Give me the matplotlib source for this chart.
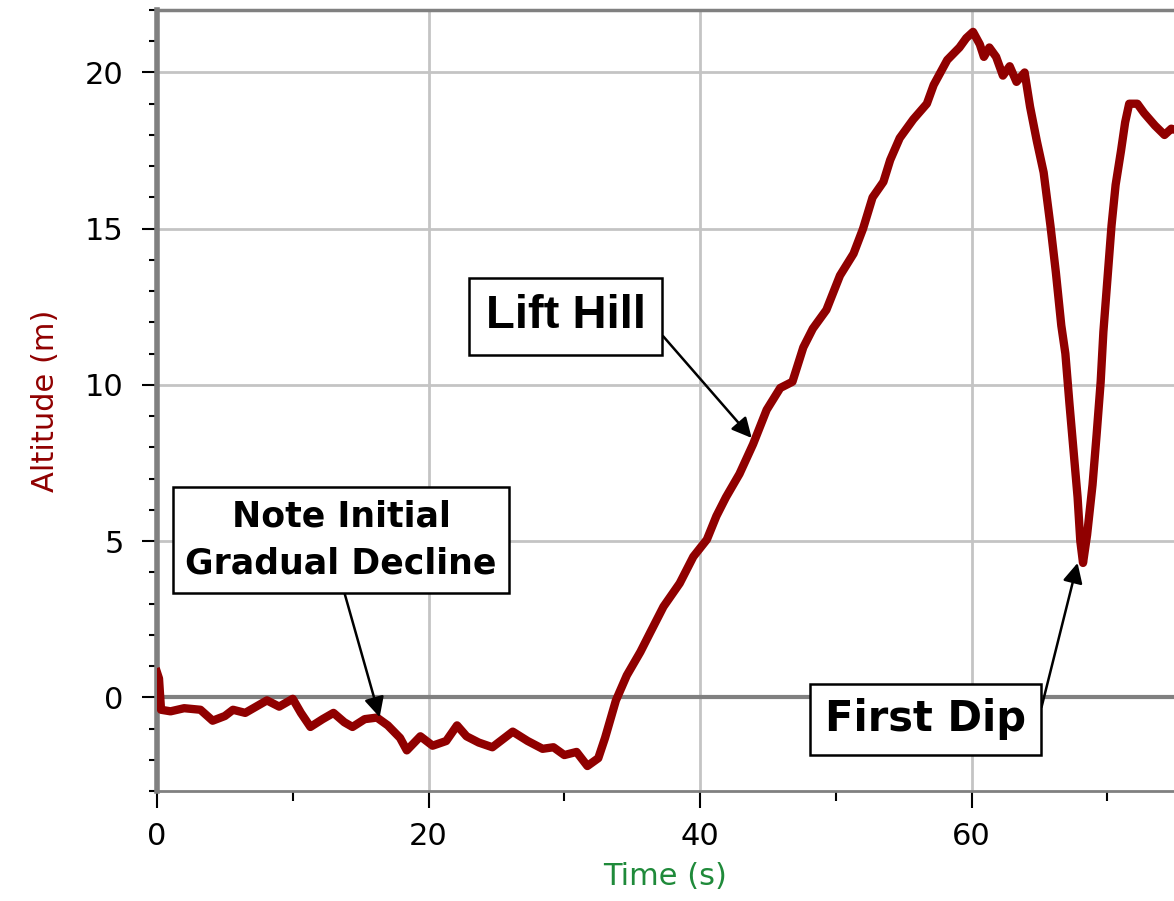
import matplotlib.pyplot as plt
from matplotlib.ticker import MultipleLocator

# tiempo (s) y altitud (m)
tiempo = [0.0, 0.15, 0.3, 1.0, 2.0, 3.2, 4.1, 5.0, 5.6, 6.5, 7.3, 8.1, 9.0, 9.6, 10.0,
          10.6, 11.3, 12.2, 13.0, 13.8, 14.4, 15.3, 16.2, 17.0, 17.9, 18.4, 19.4, 20.3,
          21.3, 22.1, 22.8, 23.7, 24.7, 25.3, 26.2, 27.3, 28.4, 29.2, 30.0, 30.9, 31.7,
          32.5, 33.0, 33.8, 34.6, 35.6, 36.3, 37.3, 38.5, 39.5, 40.5, 41.2, 41.9, 42.9,
          43.9, 44.9, 45.9, 46.8, 47.6, 48.3, 49.3, 50.3, 51.3, 52.0, 52.7, 53.5, 54.0,
          54.7, 55.7, 56.7, 57.2, 58.2, 59.1, 59.6, 60.1, 60.6, 60.9, 61.3, 61.8, 62.3,
          62.8, 63.3, 63.9, 64.3, 64.8, 65.3, 65.8, 66.2, 66.6, 66.9, 67.2, 67.5, 67.8,
          68.0, 68.2, 68.5, 68.9, 69.2, 69.5, 69.7, 70.0, 70.3, 70.6, 71.0, 71.3, 71.6,
          72.2, 72.7, 73.5, 74.2, 74.7, 75.5]
altitud = [0.8, 0.6, -0.4, -0.45, -0.35, -0.4, -0.75, -0.6, -0.4, -0.5, -0.3, -0.1, -0.3,
           -0.15, -0.05, -0.5, -0.95, -0.7, -0.5, -0.8, -0.95, -0.7, -0.65, -0.9, -1.3,
           -1.7, -1.25, -1.55, -1.4, -0.9, -1.25, -1.45, -1.6, -1.4, -1.1, -1.4, -1.65,
           -1.6, -1.85, -1.75, -2.2, -1.95, -1.3, -0.1, 0.7, 1.45, 2.05, 2.9, 3.65, 4.5,
           5.05, 5.8, 6.4, 7.15, 8.1, 9.2, 9.9, 10.1, 11.2, 11.8, 12.4, 13.5, 14.2, 15.0,
           16.0, 16.5, 17.2, 17.9, 18.5, 19.0, 19.6, 20.4, 20.8, 21.1, 21.3, 20.9, 20.5,
           20.8, 20.5, 19.9, 20.2, 19.7, 20.0, 18.9, 17.8, 16.8, 15.1, 13.6, 11.9, 11.0,
           9.4, 7.9, 6.4, 5.0, 4.3, 5.2, 6.8, 8.4, 10.1, 11.7, 13.4, 15.1, 16.4, 17.5,
           18.4, 19.0, 19.0, 18.7, 18.3, 18.0, 18.2, 18.1]

xticks = [0, 20, 40, 60]
yticks = [0, 5, 10, 15, 20]

fig = plt.figure(figsize=(11.74, 9.01), dpi=100)
ax = fig.add_axes([0.1337, 0.1221, 0.8663, 0.8668])

ax.set_xlim(0, 74.9)
ax.set_ylim(-3, 22)
ax.set_xticks(xticks)
ax.set_yticks(yticks)
ax.xaxis.set_minor_locator(MultipleLocator(10))
ax.yaxis.set_minor_locator(MultipleLocator(1))
ax.tick_params(which='major', direction='out', width=1.5, labelsize=22)
ax.tick_params(axis='y', which='major', length=11, pad=13)
ax.tick_params(axis='y', which='minor', direction='out', length=6, width=1.5)
ax.tick_params(axis='x', which='major', length=12, pad=10)
ax.tick_params(axis='x', which='minor', direction='out', length=7, width=1.5)

ax.grid(True, which='major', color='#c4c4c4', lw=2)
ax.axhline(0, color='#808080', lw=3, zorder=2)

ax.spines['left'].set_color('#808080')
ax.spines['left'].set_linewidth(4)
ax.spines['top'].set_color('#808080')
ax.spines['top'].set_linewidth(2.5)
ax.spines['bottom'].set_color('#808080')
ax.spines['bottom'].set_linewidth(2)
ax.spines['right'].set_visible(False)

ax.plot(tiempo, altitud, color='#900000', lw=6, zorder=3)

ax.set_xlabel('Time (s)', color='#1f8a3a', fontsize=22, labelpad=8)
ax.set_ylabel('Altitude (m)', color='#900000', fontsize=22, labelpad=18)

caja = dict(boxstyle='square,pad=0.35', fc='white', ec='black', lw=1.8)
flecha = dict(arrowstyle='-|>', color='black', lw=1.8, mutation_scale=30, shrinkA=0, shrinkB=0)

ax.annotate('Note Initial\nGradual Decline', xy=(16.4, -0.64), xytext=(13.55, 5.04),
            ha='center', va='center', fontsize=25, fontweight='bold', family='DejaVu Sans',
            linespacing=1.5, bbox=dict(caja, pad=0.6), arrowprops=dict(flecha, relpos=(0.5, 0)), zorder=5)
ax.annotate('Lift Hill', xy=(43.8, 8.3), xytext=(30.1, 12.2),
            ha='center', va='center', fontsize=34, fontweight='bold', family='Liberation Sans',
            bbox=dict(caja, pad=0.35), arrowprops=dict(flecha, relpos=(1, 0.5)), zorder=5)
ax.annotate('First Dip', xy=(67.8, 4.3), xytext=(56.6, -0.7),
            ha='center', va='center', fontsize=30, fontweight='bold', family='DejaVu Sans',
            bbox=dict(caja, pad=0.35), arrowprops=dict(flecha, relpos=(1.075, 0.75)), zorder=5)

plt.savefig('out.png', dpi=100)
